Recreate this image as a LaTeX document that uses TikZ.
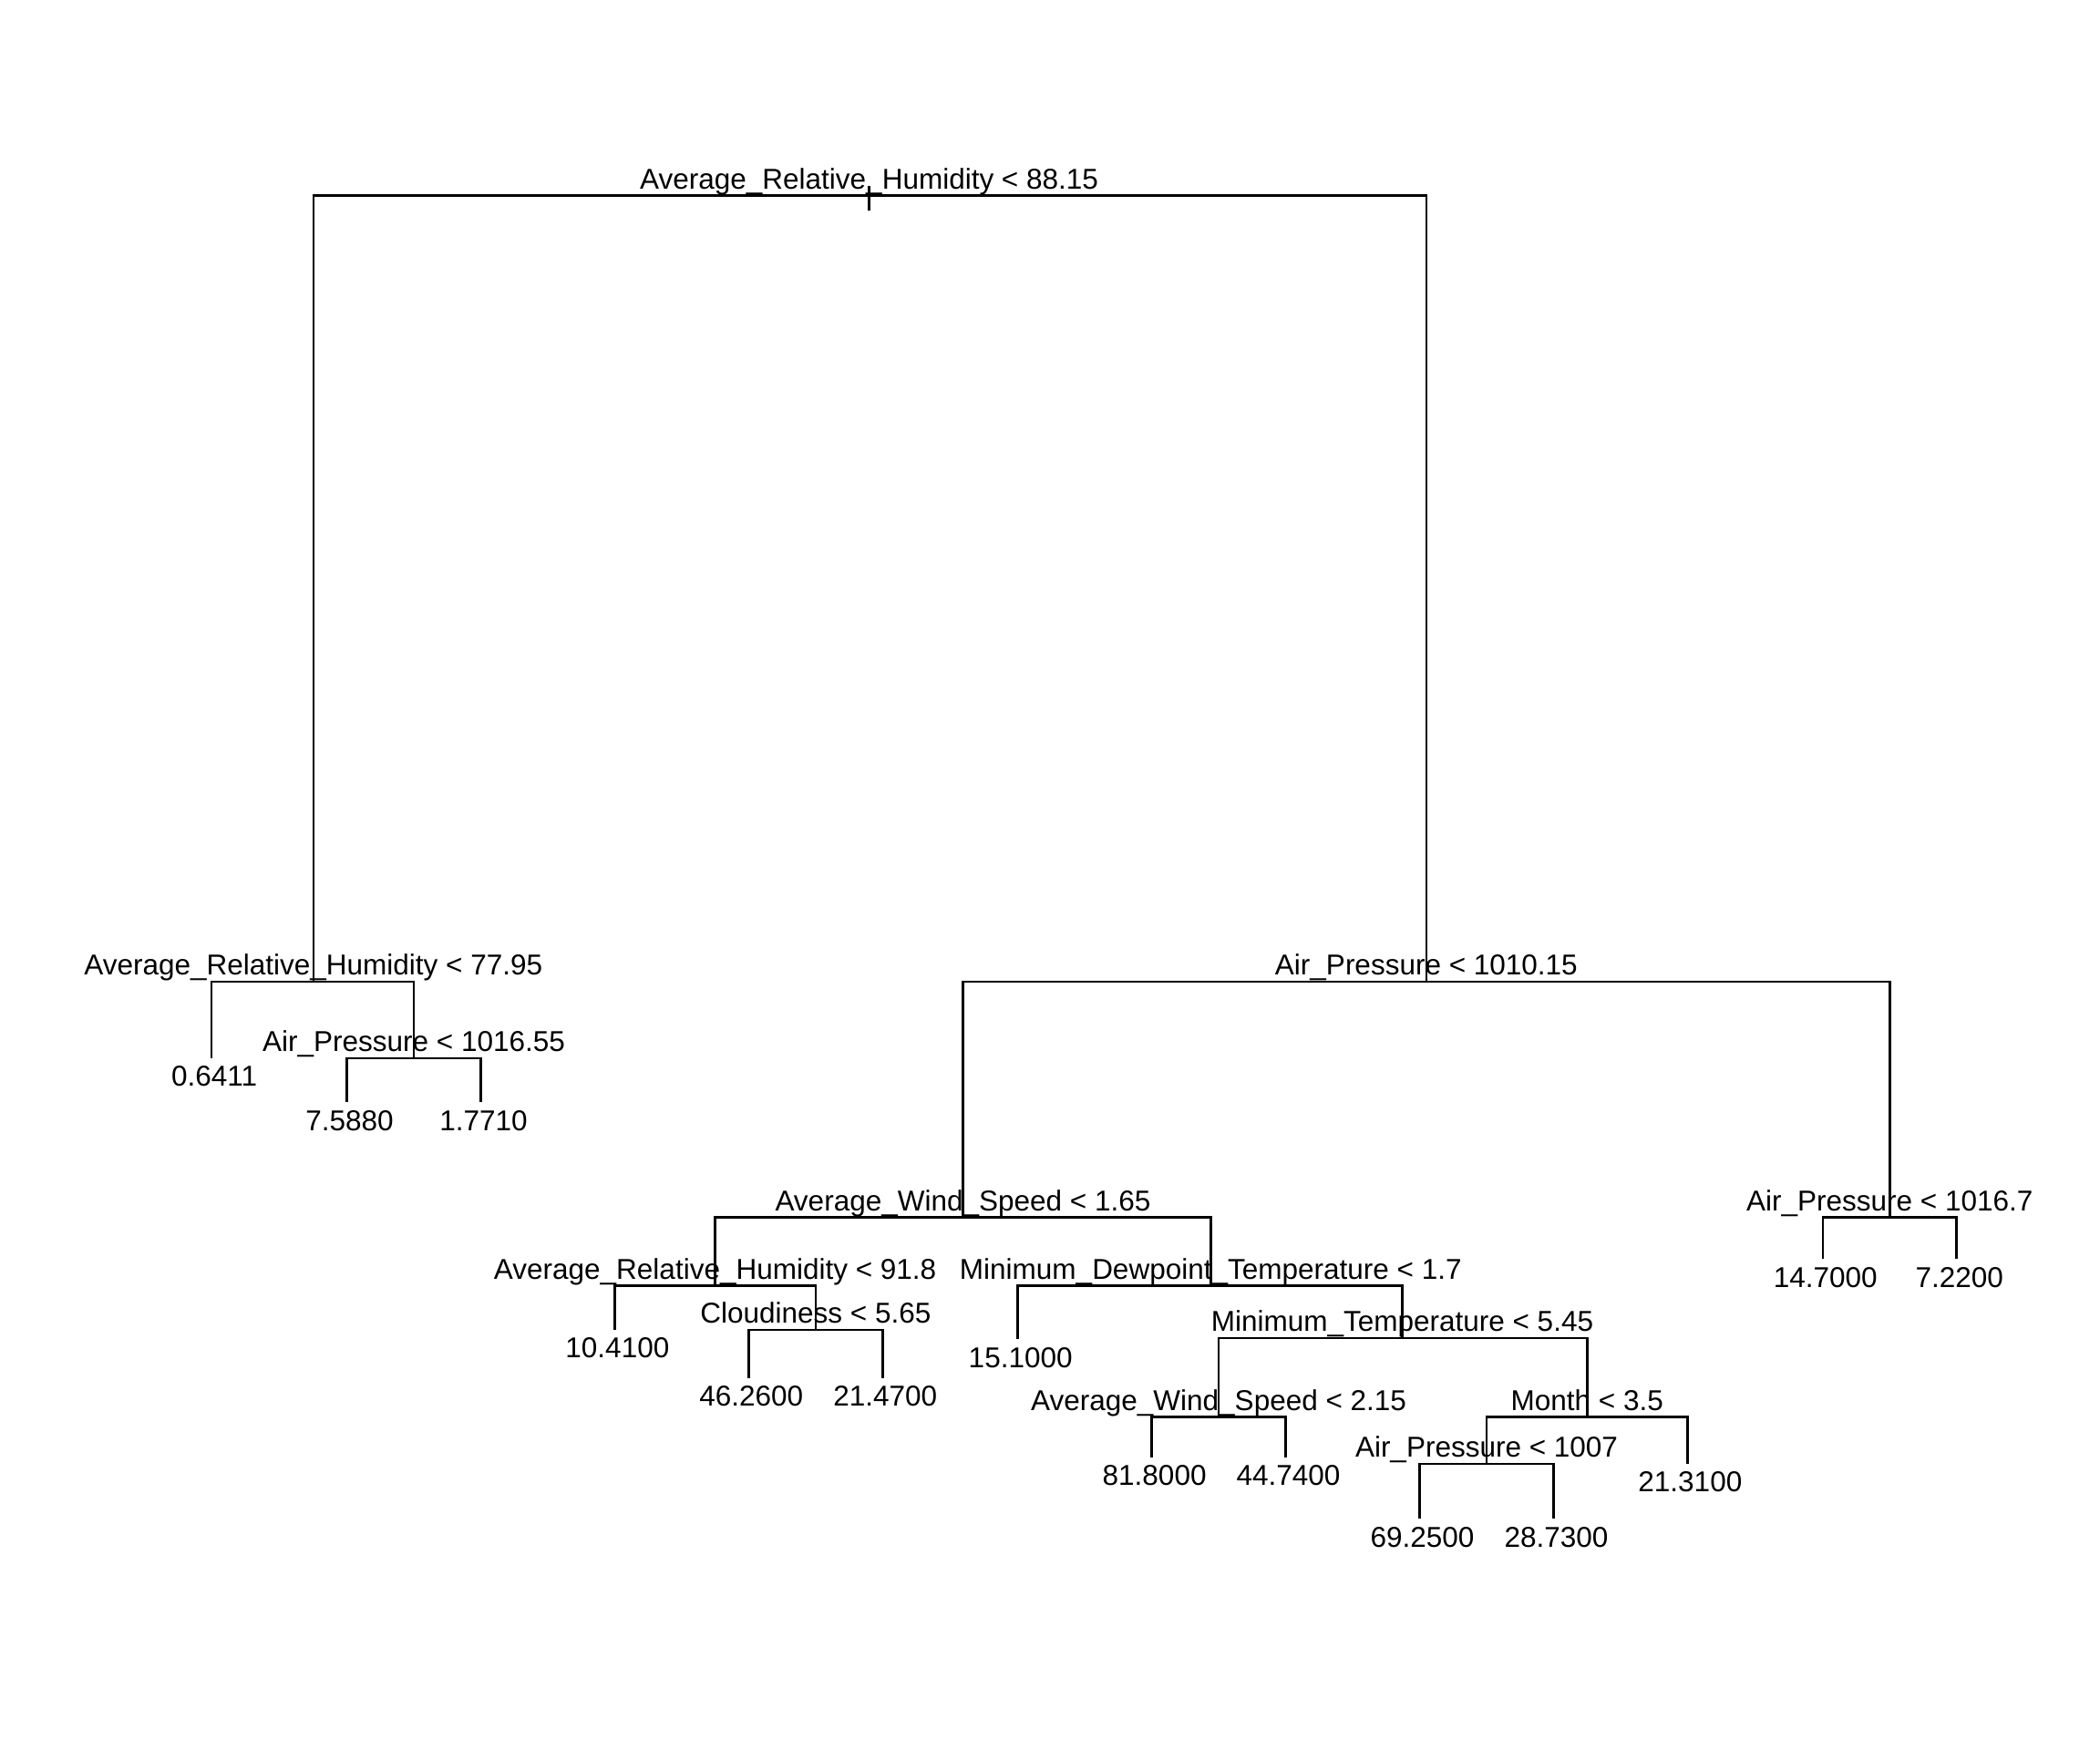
\documentclass[tikz,border=0pt]{standalone}
\usepackage{fontspec}
\setmainfont{Liberation Sans}
\usepackage{tikz}
\usetikzlibrary{positioning}

\tikzset{
  splitlab/.style={font=\fontsize{6.1}{7}\selectfont, anchor=base, inner sep=0pt, yshift=0.5mm},
  leaflab/.style={font=\fontsize{6.1}{7}\selectfont, anchor=base, inner sep=0pt, xshift=0.2mm, yshift=-2.1mm},
  branch/.style={line width=0.5pt, black}
}

\begin{document}
\begin{tikzpicture}[x=0.1mm,y=-0.1mm]
\useasboundingbox (0,0) rectangle (1568,1307);
% split points
\coordinate (root) at (649,146);
\coordinate (a) at (234,733);
\coordinate (b) at (1065,733);
\coordinate (c) at (309,790);
\coordinate (d) at (719,909);
\coordinate (f) at (1411,909);
\coordinate (g) at (534,960);
\coordinate (h) at (904,960);
\coordinate (i) at (609,993);
\coordinate (j) at (1047,999);
\coordinate (k) at (910,1058);
\coordinate (m) at (1185,1058);
\coordinate (n) at (1110,1093);
% leaf ends
\coordinate (e1) at (158,790);
\coordinate (e2) at (259,823);
\coordinate (e3) at (359,823);
\coordinate (e4) at (459,993);
\coordinate (e5) at (559,1029);
\coordinate (e6) at (659,1029);
\coordinate (e7) at (760,1000);
\coordinate (e8) at (860,1088);
\coordinate (e9) at (960,1088);
\coordinate (e10) at (1060,1134);
\coordinate (e11) at (1160,1134);
\coordinate (e12) at (1260,1093);
\coordinate (e13) at (1361,940);
\coordinate (e14) at (1461,940);
\coordinate (tickA) at (649,139);
\coordinate (tickB) at (649,157);
% branches
\draw[branch] (tickA) -- (tickB);
\draw[branch] (root) -| (a);
\draw[branch] (root) -| (b);
\draw[branch] (a) -| (e1);
\draw[branch] (a) -| (c);
\draw[branch] (c) -| (e2);
\draw[branch] (c) -| (e3);
\draw[branch] (b) -| (d);
\draw[branch] (b) -| (f);
\draw[branch] (f) -| (e13);
\draw[branch] (f) -| (e14);
\draw[branch] (d) -| (g);
\draw[branch] (d) -| (h);
\draw[branch] (g) -| (e4);
\draw[branch] (g) -| (i);
\draw[branch] (i) -| (e5);
\draw[branch] (i) -| (e6);
\draw[branch] (h) -| (e7);
\draw[branch] (h) -| (j);
\draw[branch] (j) -| (k);
\draw[branch] (j) -| (m);
\draw[branch] (k) -| (e8);
\draw[branch] (k) -| (e9);
\draw[branch] (m) -| (n);
\draw[branch] (m) -| (e12);
\draw[branch] (n) -| (e10);
\draw[branch] (n) -| (e11);
% split labels
\node[splitlab] (lroot) at (root) {Average\_Relative\_Humidity < 88.15};
\node[splitlab] (la) at (a) {Average\_Relative\_Humidity < 77.95};
\node[splitlab] (lb) at (b) {Air\_Pressure < 1010.15};
\node[splitlab] (lc) at (c) {Air\_Pressure < 1016.55};
\node[splitlab] (ld) at (d) {Average\_Wind\_Speed < 1.65};
\node[splitlab] (lf) at (f) {Air\_Pressure < 1016.7};
\node[splitlab] (lg) at (g) {Average\_Relative\_Humidity < 91.8};
\node[splitlab] (lh) at (h) {Minimum\_Dewpoint\_Temperature < 1.7};
\node[splitlab] (li) at (i) {Cloudiness < 5.65};
\node[splitlab] (lj) at (j) {Minimum\_Temperature < 5.45};
\node[splitlab] (lk) at (k) {Average\_Wind\_Speed < 2.15};
\node[splitlab] (lm) at (m) {Month < 3.5};
\node[splitlab] (ln) at (n) {Air\_Pressure < 1007};
% leaf labels
\node[leaflab] (le1) at (e1) {0.6411};
\node[leaflab] (le2) at (e2) {7.5880};
\node[leaflab] (le3) at (e3) {1.7710};
\node[leaflab] (le4) at (e4) {10.4100};
\node[leaflab] (le5) at (e5) {46.2600};
\node[leaflab] (le6) at (e6) {21.4700};
\node[leaflab] (le7) at (e7) {15.1000};
\node[leaflab] (le8) at (e8) {81.8000};
\node[leaflab] (le9) at (e9) {44.7400};
\node[leaflab] (le10) at (e10) {69.2500};
\node[leaflab] (le11) at (e11) {28.7300};
\node[leaflab] (le12) at (e12) {21.3100};
\node[leaflab] (le13) at (e13) {14.7000};
\node[leaflab] (le14) at (e14) {7.2200};
\end{tikzpicture}
\end{document}
